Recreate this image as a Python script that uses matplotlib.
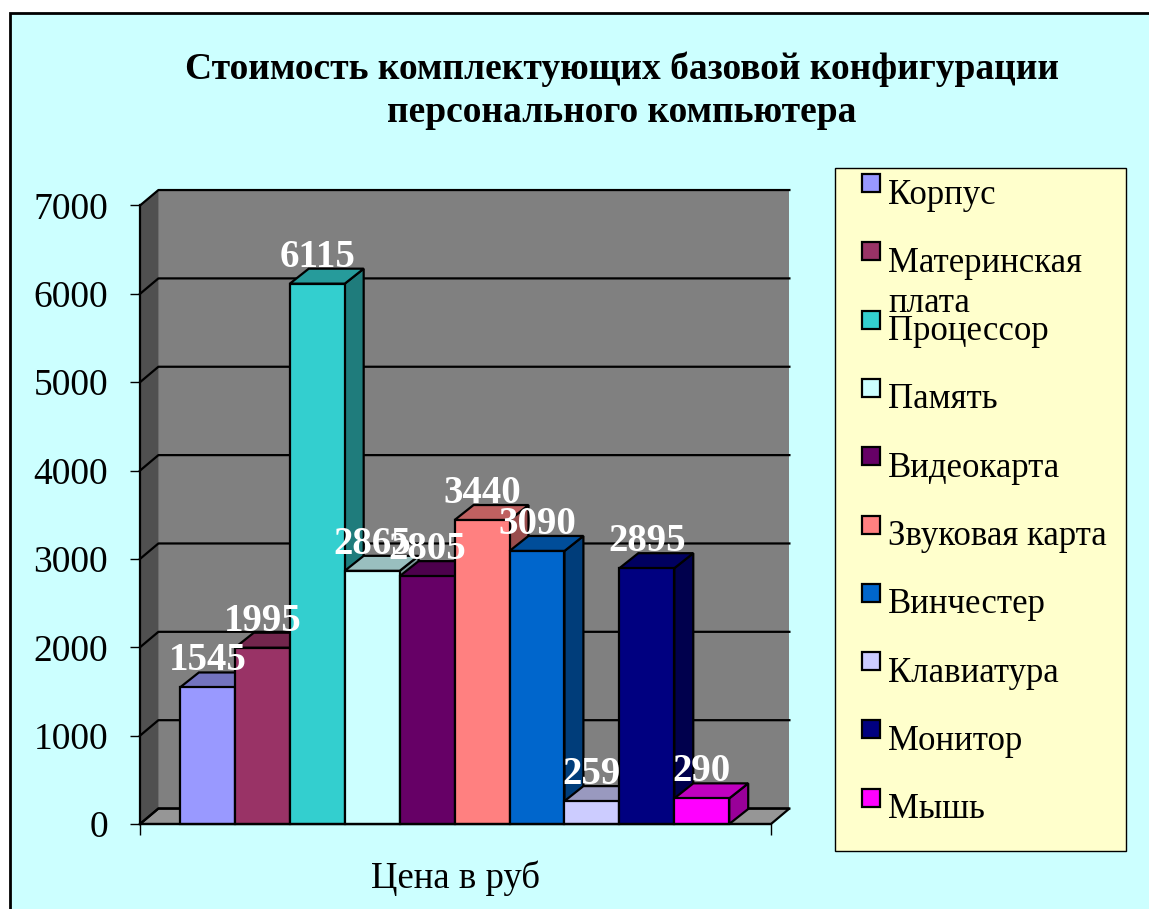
import matplotlib.pyplot as plt
from matplotlib.patches import Rectangle
from matplotlib.colors import to_rgb

plt.rcParams['font.family'] = ['Liberation Serif', 'DejaVu Serif']

categories = ["Корпус", "Материнская\nплата", "Процессор", "Память", "Видеокарта",
              "Звуковая карта", "Винчестер", "Клавиатура", "Монитор", "Мышь"]
prices = [1545, 1995, 6115, 2865, 2805, 3440, 3090, 259, 2895, 290]
colors = ["#9999FF", "#993366", "#33CFCF", "#CCFFFF", "#660066",
          "#FF8080", "#0066CC", "#CCCCFF", "#000080", "#FF00FF"]
yticks = [0, 1000, 2000, 3000, 4000, 5000, 6000, 7000]
title = "Стоимость комплектующих базовой конфигурации\nперсонального компьютера"
xlabel = "Цена в руб"

W, H = 1149, 909
LW = 1.6


def shade(color, k):
    r, g, b = to_rgb(color)
    return (r * k, g * k, b * k)


fig = plt.figure(figsize=(W / 100, H / 100), dpi=100, facecolor="white")

# background layer in pixels: frame, title, legend
bg = fig.add_axes([0, 0, 1, 1])
bg.set_xlim(0, W)
bg.set_ylim(H, 0)
bg.axis("off")
bg.add_patch(Rectangle((10, 12.5), W + 20, H + 20, facecolor="#CCFFFF", edgecolor="black", lw=2))
bg.text(622, 122, title, ha="center", va="baseline", fontsize=27, fontweight="bold", linespacing=1.3)

bg.add_patch(Rectangle((835, 168), 291, 683, facecolor="#FFFFCC", edgecolor="black", lw=1))
for i, name in enumerate(categories):
    y = 183 + i * 68.3
    bg.add_patch(Rectangle((862, y - 9), 18, 18, facecolor=colors[i], edgecolor="black", lw=1.6))
    for k, line in enumerate(name.split("\n")):
        bg.text(888, y + 20.5 + k * 40, line, ha="left", va="baseline", fontsize=25)

# chart, y is in rubles, x is in bar widths
ax = fig.add_axes([140 / W, 1 - 824 / H, (771 - 140) / W, (824 - 205.5) / H])
ax.patch.set_visible(False)
ax.set_xlim(-0.727, 10.76)
ax.set_ylim(0, 7000)
x0, x1 = ax.get_xlim()
ymax = yticks[-1]
wall_dx = 0.335
wall_dy = 175
bar_dx = 0.345
bar_dy = 170

# walls and floor
ax.fill([x0 + wall_dx, x1 + wall_dx, x1 + wall_dx, x0 + wall_dx],
        [wall_dy, wall_dy, ymax + wall_dy, ymax + wall_dy],
        color="#808080", lw=0, clip_on=False, zorder=1)
ax.fill([x0, x0 + wall_dx, x0 + wall_dx, x0],
        [0, wall_dy, ymax + wall_dy, ymax],
        color="#505050", lw=0, clip_on=False, zorder=1)
ax.fill([x0, x0 + wall_dx, x1 + wall_dx, x1],
        [0, wall_dy, wall_dy, 0],
        facecolor="#969696", edgecolor="black", lw=LW, clip_on=False, zorder=1)

for t in yticks:
    ax.plot([x0, x0 + wall_dx, x1 + wall_dx], [t, t + wall_dy, t + wall_dy],
            color="black", lw=LW, clip_on=False, zorder=2)

# bars from left to right so the next one covers the side of the previous
for i, v in enumerate(prices):
    z = 3 + i * 0.1
    ax.fill([i + 1, i + 1 + bar_dx, i + 1 + bar_dx, i + 1],
            [0, bar_dy, v + bar_dy, v],
            facecolor=shade(colors[i], 0.6), edgecolor="black", lw=LW, clip_on=False, zorder=z)
    ax.fill([i, i + bar_dx, i + 1 + bar_dx, i + 1],
            [v, v + bar_dy, v + bar_dy, v],
            facecolor=shade(colors[i], 0.75), edgecolor="black", lw=LW, clip_on=False, zorder=z)
    ax.bar(i + 0.5, v, width=1, color=colors[i], edgecolor="black", lw=LW, clip_on=False, zorder=z)

for i, v in enumerate(prices):
    ax.annotate(str(v), (i + 0.5, v + bar_dy), xytext=(0, 1.5), textcoords="offset points",
                ha="center", va="baseline", color="white", fontsize=28, fontweight="bold", zorder=10)

for side in ["top", "right"]:
    ax.spines[side].set_visible(False)
for side in ["left", "bottom"]:
    ax.spines[side].set_linewidth(LW)
    ax.spines[side].set_zorder(8)

ax.set_yticks(yticks)
ax.set_xticks([x0, x1])
ax.set_xticklabels([])
ax.tick_params(axis="y", length=7.5, width=1, pad=15.5, labelsize=27)
ax.tick_params(axis="x", length=8, width=1)
ax.set_xlabel(xlabel, fontsize=26.5, labelpad=15)

fig.savefig("out.png", dpi=100)
